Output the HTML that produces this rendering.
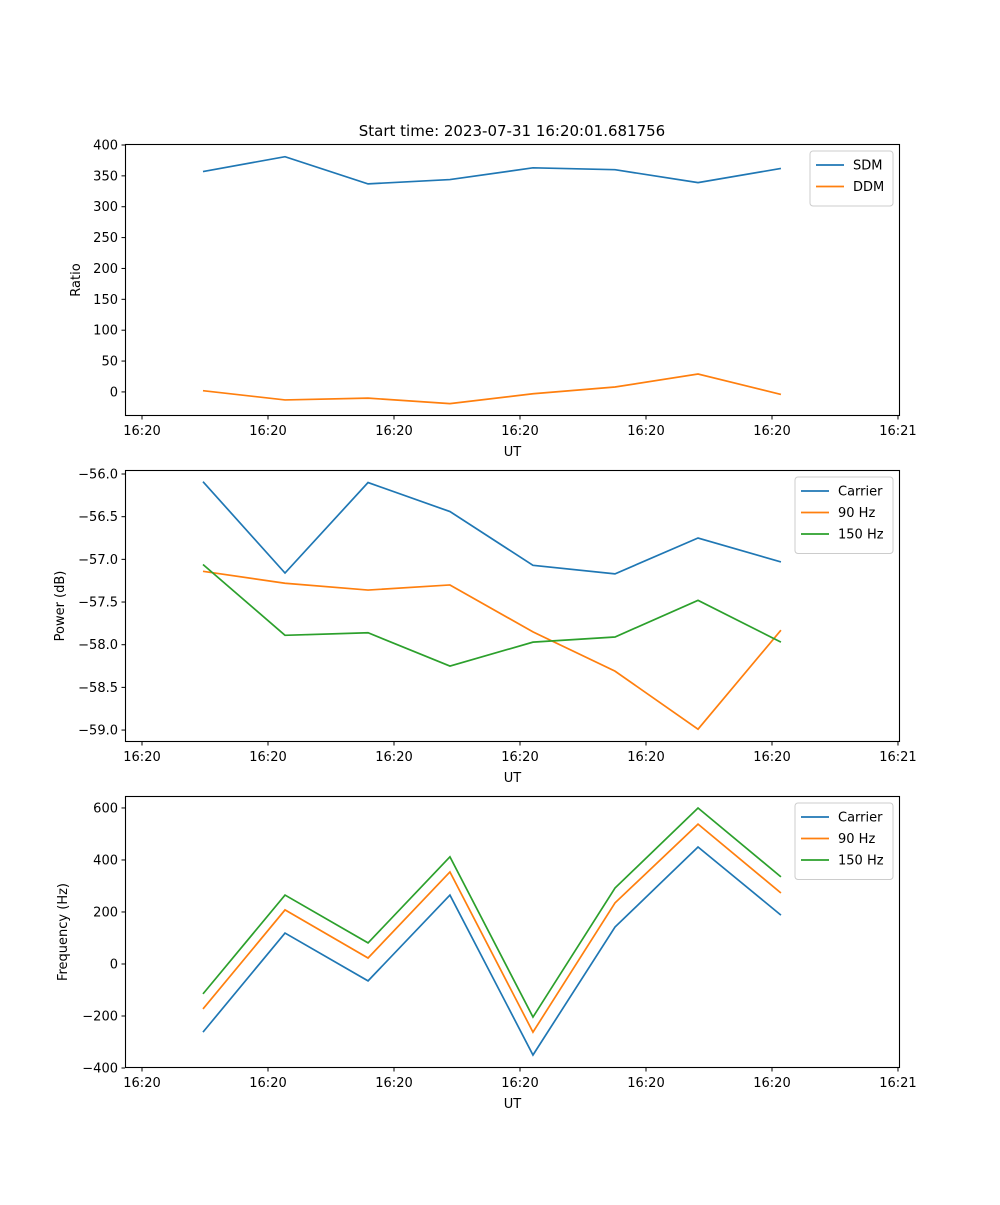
<!DOCTYPE html>
<html><head><meta charset="utf-8"><style>
body{margin:0;background:#fff;font-family:"Liberation Sans","DejaVu Sans",sans-serif}
svg text{font-family:"DejaVu Sans","Liberation Sans",sans-serif;font-size:13px;fill:#000}
</style></head><body>
<svg id="fig" width="1000" height="1200" xmlns="http://www.w3.org/2000/svg"></svg>
<script>
const times=[0.484,1.135,1.794,2.444,3.103,3.754,4.413,5.071];
const xTickLabels=["16:20","16:20","16:20","16:20","16:20","16:20","16:21"];
const sdm=[357,381,337,344,363,360,339,362];
const ddm=[2,-13,-10,-19,-3,8,29,-4];
const pCarrier=[-56.09,-57.16,-56.10,-56.44,-57.07,-57.17,-56.75,-57.03];
const p90=[-57.14,-57.28,-57.36,-57.30,-57.85,-58.31,-58.99,-57.83];
const p150=[-57.06,-57.89,-57.86,-58.25,-57.97,-57.91,-57.48,-57.97];
const fCarrier=[-262,119,-65,265,-350,142,450,188];
const f90=[-173,208,23,354,-262,235,538,273];
const f150=[-115,265,81,412,-204,292,600,335];
const ratioTicks=[0,50,100,150,200,250,300,350,400];
const powerTicks=[-59.0,-58.5,-58.0,-57.5,-57.0,-56.5,-56.0];
const freqTicks=[-400,-200,0,200,400,600];

const NS="http://www.w3.org/2000/svg";
const svg=document.getElementById('fig');
function el(t,a,p){const e=document.createElementNS(NS,t);for(const k in a)e.setAttribute(k,a[k]);(p||svg).appendChild(e);return e;}
const L=125,R=900;
function xs(t){return L+(t+0.135)/6.151*(R-L);}
const C=['#1f77b4','#ff7f0e','#2ca02c'];
function panel(name,top,bot,d0,d1,ticks,fmt,ylabel,ylx,series,names,legW){
  const g=el('g',{});
  
  
  const ys=v=>bot-(v-d0)/(d1-d0)*(bot-top);
  ticks.forEach(v=>{const y=ys(v);
    const tk=el('line',{x1:L-3.5,x2:L,y1:y,y2:y,stroke:'#000','stroke-width':1},g);
    
    const t=el('text',{x:L-7,y:y+4.5,'text-anchor':'end'},g);t.textContent=fmt(v);
    });
  xTickLabels.forEach((s,i)=>{const x=xs(i);
    const tk=el('line',{x1:x,x2:x,y1:bot,y2:bot+3.5,stroke:'#000','stroke-width':1},g);
    
    const t=el('text',{x:x,y:bot+19,'text-anchor':'middle'},g);t.textContent=s;
    });
  series.forEach((s,k)=>{
    const p=el('polyline',{points:s.map((v,i)=>xs(times[i])+','+ys(v)).join(' '),fill:'none',stroke:C[k],'stroke-width':1.7},g);
    
    });
  const fr=el('rect',{x:L+0.5,y:top+0.5,width:R-L-1,height:bot-top-1,fill:'none',stroke:'#000','stroke-width':1.1},g);
  
  const xl=el('text',{x:(L+R)/2,y:bot+40,'text-anchor':'middle'},g);xl.textContent='UT';
  
  const yl=el('text',{x:ylx,y:(top+bot)/2,'text-anchor':'middle',transform:'rotate(-90 '+ylx+' '+(top+bot)/2+')'},g);yl.textContent=ylabel;
  
  const lx=R-7-legW, ly=top+7;
  const lg=el('g',{},g);
  
  el('rect',{x:lx,y:ly,width:legW,height:12+names.length*21.5,rx:3,fill:'#fff',stroke:'#ccc','stroke-width':1},lg);
  names.forEach((n,k)=>{const yy=ly+14+k*21.5;
    el('line',{x1:lx+6,x2:lx+34,y1:yy,y2:yy,stroke:C[k],'stroke-width':1.7},lg);
    const t=el('text',{x:lx+43,y:yy+4.5},lg);t.textContent=n;
    });
}
const tt=el('text',{x:512,y:136,'text-anchor':'middle',style:'font-size:15px'});tt.textContent='Start time: 2023-07-31 16:20:01.681756';

panel('ratio-panel',144,416,-39,401.6,ratioTicks,v=>String(v),'Ratio',80,[sdm,ddm],['SDM','DDM'],83);
panel('power-panel',470,742,-59.14,-55.953,powerTicks,v=>'\u2212'+Math.abs(v).toFixed(1),'Power (dB)',64,[pCarrier,p90,p150],['Carrier','90 Hz','150 Hz'],98);
panel('frequency-panel',796,1068,-400,646,freqTicks,v=>(v<0?'\u2212':'')+Math.abs(v),'Frequency (Hz)',67,[fCarrier,f90,f150],['Carrier','90 Hz','150 Hz'],98);
</script>
</body></html>
